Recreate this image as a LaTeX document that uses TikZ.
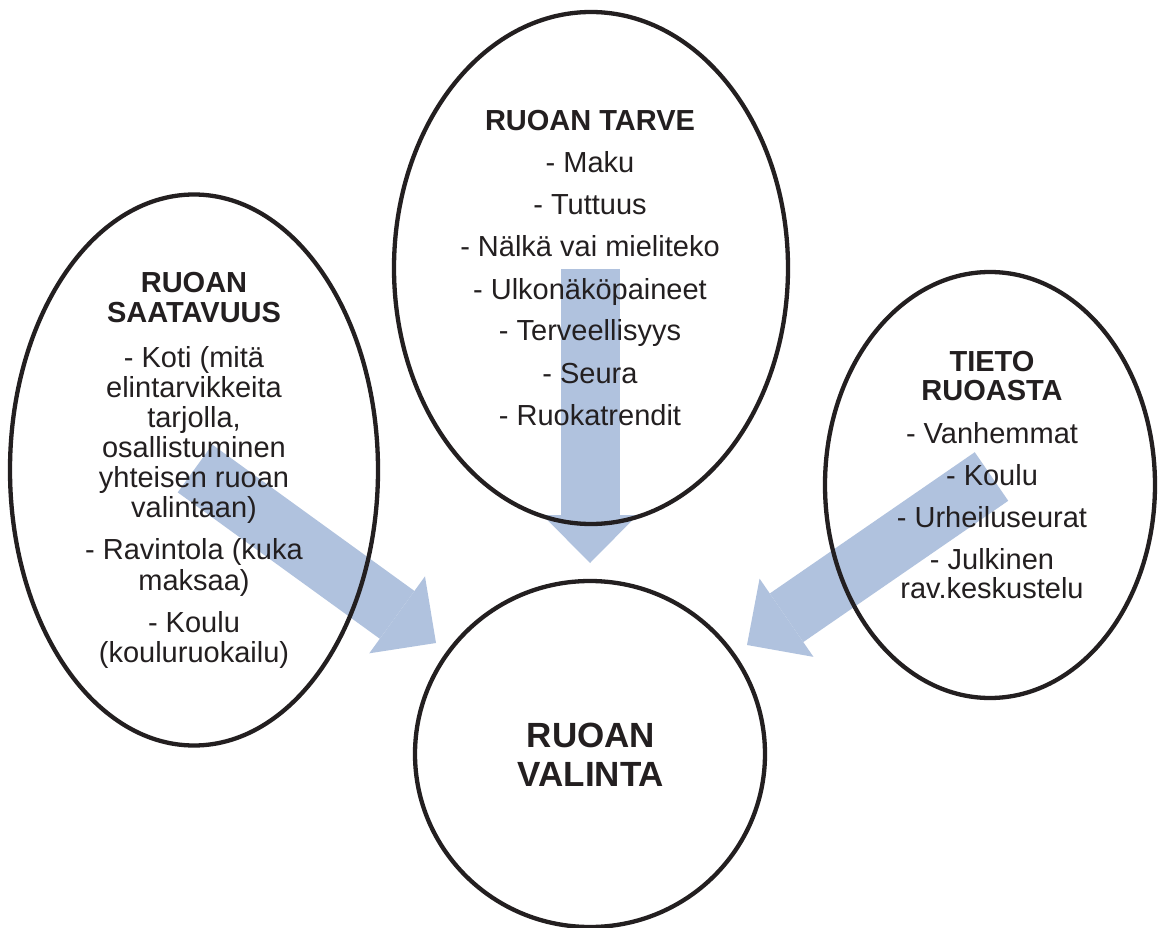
\documentclass[tikz,border=0pt]{standalone}
\usepackage{fontspec}
\setmainfont{Liberation Sans}
\usetikzlibrary{shapes.geometric,arrows.meta}
\definecolor{ink}{HTML}{231F20}
\definecolor{arrowblue}{RGB}{176,194,222}
\pgfdeclarelayer{bg}
\pgfsetlayers{bg,main}
\tikzset{
  oval/.style={ellipse, draw=ink, line width=4.3pt, inner sep=0pt, outer sep=0pt},
  bodytxt/.style={font=\fontsize{29}{30}\selectfont, text=ink, inner sep=0pt, anchor=base},
  headtxt/.style={font=\bfseries\fontsize{29}{30}\selectfont, text=ink, inner sep=0pt, anchor=base},
  bigtxt/.style={font=\bfseries\fontsize{35}{39}\selectfont, text=ink, inner sep=0pt, anchor=base},
  blockarrow/.style={draw=arrowblue, line width=59pt, line cap=butt,
    -{Triangle[width=95pt, length=48pt, line width=0pt]}},
}
\begin{document}
\begin{tikzpicture}[x=1pt, y=-1pt]
\useasboundingbox (0,0) rectangle (1160,928);

% ellipses
\node[oval, minimum width=394pt, minimum height=512pt] (need) at (591,268) {};
\node[oval, minimum width=368pt, minimum height=551pt] (avail) at (194,470) {};
\node[oval, minimum width=330pt, minimum height=426pt] (info) at (990,485) {};
\node[oval, minimum width=350pt, minimum height=346pt] (choice) at (590,754) {};

% arrow end points
\coordinate (a1s) at (590,269);
\coordinate (a1t) at (590,563);
\coordinate (a2s) at (195,468.5);
\coordinate (a2t) at (436,643);
\coordinate (a3s) at (991.5,476.5);
\coordinate (a3t) at (747,645);

\begin{pgfonlayer}{bg}
  \fill[white] (0,0) rectangle (1160,928);
  \draw[blockarrow] (a1s) -- (a1t);
  \draw[blockarrow] (a2s) -- (a2t);
  \draw[blockarrow] (a3s) -- (a3t);
\end{pgfonlayer}

% top ellipse text
\node[headtxt] (needT) at (590,131) {RUOAN TARVE};
\foreach \yy/\tt [count=\i] in {173/{- Maku}, 215/{- Tuttuus}, 257/{- Nälkä vai mieliteko},
  299/{- Ulkonäköpaineet}, 341/{- Terveellisyys}, 383/{- Seura}, 425/{- Ruokatrendit}}
  \node[bodytxt] (need\i) at (590,\yy) {\tt};

% left ellipse text
\node[headtxt] (availT1) at (194,293) {RUOAN};
\node[headtxt] (availT2) at (194,323) {SAATAVUUS};
\foreach \yy/\tt [count=\i] in {367/{- Koti (mitä}, 397/{elintarvikkeita}, 427/{tarjolla,},
  457/{osallistuminen}, 487/{yhteisen ruoan}, 517/{valintaan)},
  559/{- Ravintola (kuka}, 590/{maksaa)}, 632/{- Koulu}, 662/{(kouluruokailu)}}
  \node[bodytxt] (avail\i) at (194,\yy) {\tt};

% right ellipse text
\node[headtxt] (infoT1) at (992,371) {TIETO};
\node[headtxt] (infoT2) at (992,400) {RUOASTA};
\foreach \yy/\tt [count=\i] in {443/{- Vanhemmat}, 485/{- Koulu}, 527/{- Urheiluseurat},
  569/{- Julkinen}, 598/{rav.keskustelu}}
  \node[bodytxt] (info\i) at (992,\yy) {\tt};

% bottom circle text
\node[bigtxt] (choiceT1) at (591,747) {RUOAN};
\node[bigtxt] (choiceT2) at (591,786) {VALINTA};
\end{tikzpicture}
\end{document}
